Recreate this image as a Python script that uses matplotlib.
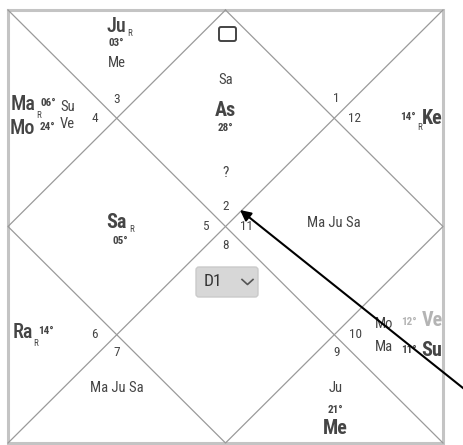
import matplotlib
matplotlib.use('Agg')
from matplotlib import pyplot as plt
from matplotlib.patches import FancyBboxPatch

plt.rcParams['font.family'] = ['Roboto Condensed', 'DejaVu Sans Condensed',
                               'Liberation Sans Narrow', 'DejaVu Sans']

# Sign number shown in each house (house 1 .. house 12)
sign_numbers = [2, 3, 4, 5, 6, 7, 8, 9, 10, 11, 12, 1]

# Planets per house
house1_planets = ['Sa', 'As']
house1_degree = '28°'
house2_planets = ['Ju', 'Me']
house2_degree = '03°'
house3_left = ['Ma', 'Mo']
house3_degrees = ['06°', '24°']
house3_right = ['Su', 'Ve']
house4_planet = 'Sa'
house4_degree = '05°'
house5_planet = 'Ra'
house5_degree = '14°'
house6_planets = 'Ma Ju Sa'
house8_planets = ['Ju', 'Me']
house8_degree = '21°'
house9_left = ['Mo', 'Ma']
house9_right = ['Ve', 'Su']
house9_degrees = ['12°', '11°']
house10_planets = 'Ma Ju Sa'
house11_planet = 'Ke'
house11_degree = '14°'
unknown_mark = '?'
chart_name = 'D1'

# Frame geometry (pixels)
L, T, R, B = 8, 10, 443, 443
cx, cy = (L + R) / 2, (T + B) / 2
qx1, qx3 = (L + cx) / 2, (cx + R) / 2
qy1, qy3 = (T + cy) / 2, (cy + B) / 2

fig = plt.figure(figsize=(4.64, 4.45), dpi=100, facecolor='white')
ax = fig.add_axes([0, 0, 1, 1])
ax.set_xlim(0, 464)
ax.set_ylim(445, 0)
ax.axis('off')

line_c = '#9a9a9a'
txt_c = '#454545'
# outer frame
ax.plot([L, R, R, L, L], [T, T, B, B, T], color='#c4c4c4', lw=2.2, solid_joinstyle='miter')
# diagonals
ax.plot([L, R], [T, B], color=line_c, lw=0.9)
ax.plot([L, R], [B, T], color=line_c, lw=0.9)
# inner diamond
ax.plot([cx, R, cx, L, cx], [T, cy, B, cy, T], color=line_c, lw=0.9)

def t(x, y, s, size=10.5, weight='normal', color=txt_c, ha='center'):
    ax.text(x, y, s, fontsize=size, fontweight=weight,
            color=color, ha=ha, va='center')

BIG = 14.5
DEG = 8
SUB = 6.5
REG = 10.5

# house numbers
num_pos = [(cx, cy - 20), (qx1, qy1 - 19), (qx1 - 22, qy1), (cx - 20, cy),
           (qx1 - 22, qy3), (qx1, qy3 + 18), (cx, cy + 19), (qx3 + 2, qy3 + 18),
           (qx3 + 21, qy3), (cx + 21, cy), (qx3 + 20, qy1), (qx3 + 2, qy1 - 20)]
for n, (x, y) in zip(sign_numbers, num_pos):
    t(x, y, str(n), size=9.5)

# house 1
t(cx, 80, house1_planets[0], size=REG)
t(cx, 111, house1_planets[1], size=BIG, weight='bold')
t(cx, 128, house1_degree, size=DEG, weight='bold')
t(cx, 173, unknown_mark, size=11)

# house 2
t(qx1, 27, house2_planets[0], size=BIG, weight='medium')
t(qx1 + 13, 34, 'R', size=SUB)
t(qx1, 43, house2_degree, size=DEG, weight='bold')
t(qx1, 63, house2_planets[1], size=REG)

# house 3
t(23, 104, house3_left[0], size=BIG, weight='medium')
t(39, 115, 'R', size=SUB)
t(41, 103, house3_degrees[0], size=DEG, weight='bold', ha='left')
t(22, 128, house3_left[1], size=BIG, weight='medium')
t(40, 127, house3_degrees[1], size=DEG, weight='bold', ha='left')
t(68, 107, house3_right[0], size=REG)
t(67, 124, house3_right[1], size=REG)

# house 4
t(qx1, 222, house4_planet, size=BIG, weight='bold')
t(qx1 + 15, 230, 'R', size=SUB)
t(qx1 + 4, 241, house4_degree, size=DEG, weight='bold')

# house 5
t(23, 333, house5_planet, size=BIG, weight='medium')
t(36, 344, 'R', size=SUB)
t(46, 331, house5_degree, size=DEG, weight='bold')

# house 6
t(qx1, 388, house6_planets, size=REG)

# house 8
t(qx3 + 1, 388, house8_planets[0], size=REG)
t(qx3 + 1, 410, house8_degree, size=DEG, weight='bold')
t(qx3 + 1, 428, house8_planets[1], size=BIG, weight='bold')

# house 9
t(384, 324, house9_left[0], size=REG)
t(384, 347, house9_left[1], size=REG)
t(409, 322, house9_degrees[0], size=DEG, weight='bold', color='#b4b4b4')
t(432, 321, house9_right[0], size=BIG, weight='bold', color='#b4b4b4')
t(409, 350, house9_degrees[1], size=DEG, weight='bold')
t(432, 350, house9_right[1], size=BIG, weight='bold')

# house 10
t(qx3, 223, house10_planets, size=REG)

# house 11
t(408, 117, house11_degree, size=DEG, weight='bold')
t(420, 128, 'R', size=SUB)
t(432, 118, house11_planet, size=BIG, weight='bold')

# small box icon at the top
ax.add_patch(FancyBboxPatch((219, 27), 17, 14, boxstyle='round,pad=0,rounding_size=2',
                            fc='none', ec='#444444', lw=1.4))

# D1 dropdown button
ax.add_patch(FancyBboxPatch((196, 267), 62, 30, boxstyle='round,pad=0,rounding_size=3',
                            fc='#d7d7d7', ec='#cacaca', lw=1))
t(213, 282, chart_name, size=12.5, color='#333333')
ax.plot([242, 247.5, 253], [279.5, 284.5, 279.5], color='#555555', lw=1.2)

# pointer arrow
ax.annotate('', xy=(240, 210), xytext=(478, 400),
            arrowprops=dict(arrowstyle='-|>', color='black', lw=1.5,
                            mutation_scale=16, shrinkA=0, shrinkB=0))

fig.savefig('out.png', dpi=100, facecolor='white')
